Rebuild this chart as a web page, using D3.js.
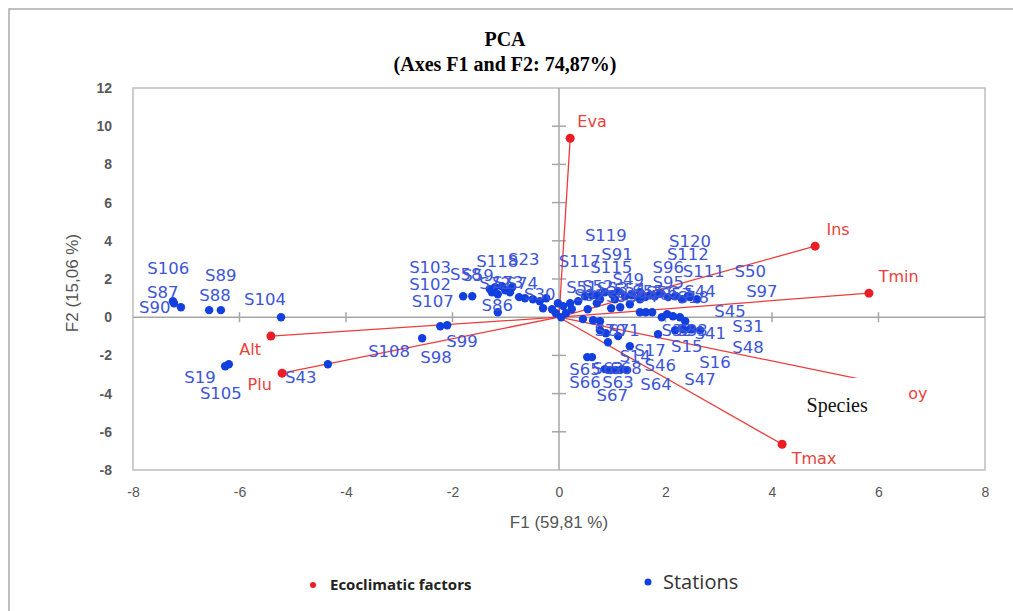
<!doctype html>
<html lang="en">
<head>
  <meta charset="utf-8">
  <style>
    body { margin: 0; background: #fff; }
    .tick text { font: 14px "Liberation Sans", Arial, sans-serif; fill: #555; }
    .st-label { font: 16.5px "DejaVu Sans", Verdana, sans-serif; fill: #3d55d8; }
    .fac-label { font: 16px "DejaVu Sans", Verdana, sans-serif; fill: #e8423c; }
  </style>
  <script src="https://d3js.org/d3.v7.min.js"></script>
</head>
<body>
<script>
// ecoclimatic factors (vectors)
const factorNames = ["Eva", "Ins", "Tmin", "oy", "Tmax", "Alt", "Plu"];
const factorF1 = [0.21, 4.81, 5.82, 6.02, 4.19, -5.41, -5.20];
const factorF2 = [9.37, 3.72, 1.26, -3.45, -6.65, -0.99, -2.93];
const factorLabelF1 = [0.62, 5.24, 6.38, 6.74, 4.79, -5.80, -5.62];
const factorLabelF2 = [10.26, 4.61, 2.15, -3.98, -7.38, -1.68, -3.51];

// stations (label coords null = no label)
const stationNames = [
  "S106", "S87", "S90", "S88", "S89", "S104", "S19", "S105", "S43",
  "S108", "S98", "S99", "S107", "S103", "S102", "S118", "S23", "S58", "S59",
  "S72", "S73", "S74", "S86", "S30", "S29", "S28", "S27", "S26", "S25",
  "S1", "S2", "S3", "S4", "S5", "S6", "S7", "S8", "S9", "S10",
  "S11", "S12", "S13", "S20", "S21", "S22", "S24", "S34",
  "S117", "S119", "S120", "S91", "S112", "S115", "S96", "S111", "S50", "S49",
  "S95", "S44", "S97", "S18", "S51", "S52", "S53", "S54", "S55", "S56",
  "S57", "S92", "S93", "S94",
  "S45", "S31", "S48", "S41", "S15", "S17", "S16", "S14", "S46", "S47",
  "S32", "S33", "S35", "S36",
  "S70", "S71", "S65", "S66", "S62", "S63", "S68", "S67", "S64"
];
const stationF1 = [
  -7.25, -7.23, -7.10, -6.57, -6.35, -5.22, -6.27, -6.20, -4.34,
  -2.57, -2.23, -2.10, -1.80, -1.63, -1.30, -1.20, -1.07, -1.26, -1.15,
  -1.01, -0.92, -0.88, -1.15, -0.64, -0.75, -0.49, -0.36, -0.24, -0.30,
  -0.13, -0.02, 0.08, 0.13, 0.04, -0.06, 0.24, 0.45, 0.64, 0.77,
  0.98, 1.15, 1.52, 1.63, 1.75, 0.71, 0.54, 1.33,
  0.21, 1.11, 1.52, 0.86, 1.90, 0.73, 1.71, 2.18, 2.46, 1.24,
  1.62, 2.31, 2.59, 2.42, 0.36, 0.49, 0.62, 1.00, 1.37, 1.80,
  2.05, 0.77, 1.05, 1.52,
  1.93, 2.27, 2.37, 2.65, 1.86, 1.33, 2.46, 0.92, 1.11, 2.18,
  2.33, 2.50, 2.03, 2.14,
  0.77, 0.88, 0.53, 0.62, 0.86, 0.96, 1.18, 1.07, 1.28
];
const stationF2 = [
  0.84, 0.73, 0.52, 0.37, 0.37, 0.00, -2.57, -2.46, -2.46,
  -1.10, -0.47, -0.42, 1.10, 1.10, 1.47, 1.57, 1.62, 1.31, 1.20,
  1.41, 1.31, 1.57, 0.26, 0.99, 1.05, 0.94, 0.84, 0.99, 0.47,
  0.42, 0.73, 0.58, 0.21, 0.00, 0.21, 0.42, -0.10, -0.16, -0.21,
  0.47, 0.52, 0.26, 0.26, 0.26, 0.73, 0.42, 0.68,
  0.73, 1.36, 1.31, 1.31, 1.26, 1.15, 1.15, 1.10, 1.05, 1.10,
  1.05, 0.94, 0.94, 1.10, 0.84, 1.10, 1.15, 1.20, 1.15, 1.10,
  1.05, 0.94, 0.94, 0.94,
  0.00, 0.00, -0.21, -0.68, -0.89, -1.52, -0.63, -1.31, -0.99, -0.68,
  -0.63, -0.63, 0.16, 0.05,
  -0.68, -0.84, -2.09, -2.09, -2.72, -2.77, -2.72, -2.77, -2.77
];
const stationLabelF1 = [
  -7.34, -7.44, -7.59, -6.46, -6.35, -5.52, -6.74, -6.35, -4.85,
  -3.19, -2.31, -1.82, -2.37, -2.42, -2.42, -1.16, -0.66, -1.75, -1.52,
  -1.20, -0.96, -0.69, -1.16, -0.36, null, null, null, null, null,
  null, null, null, null, null, null, null, null, null, null,
  null, null, null, null, null, null, null, null,
  0.39, 0.88, 2.46, 1.09, 2.42, 0.98, 2.05, 2.72, 3.59, 1.30,
  2.05, 2.65, 3.81, 2.52, 0.43, 0.73, 1.00, 1.33, 1.67, 1.93,
  2.20, 0.58, 1.18, 1.56,
  3.21, 3.55, 3.55, 2.84, 2.40, 1.71, 2.93, 1.43, 1.90, 2.65,
  2.22, 2.50, null, null,
  0.96, 1.22, 0.49, 0.49, 0.92, 1.11, 1.26, 1.00, 1.82
];
const stationLabelF2 = [
  2.57, 1.31, 0.52, 1.15, 2.20, 0.94, -3.14, -3.98, -3.14,
  -1.78, -2.09, -1.26, 0.84, 2.62, 1.73, 2.93, 3.04, 2.25, 2.20,
  1.78, 1.83, 1.78, 0.63, 1.20, null, null, null, null, null,
  null, null, null, null, null, null, null, null, null, null,
  null, null, null, null, null, null, null, null,
  2.93, 4.29, 3.98, 3.30, 3.30, 2.62, 2.62, 2.41, 2.41, 1.99,
  1.83, 1.36, 1.36, 1.05, 1.57, 1.62, 1.52, 1.47, 1.36, 1.31,
  1.20, 1.15, 1.10, 1.10,
  0.31, -0.47, -1.57, -0.84, -1.52, -1.73, -2.36, -2.04, -2.51, -3.25,
  -0.68, -0.68, null, null,
  -0.68, -0.68, -2.72, -3.40, -2.67, -3.40, -2.67, -4.08, -3.51
];

const xTicks = [-8, -6, -4, -2, 0, 2, 4, 6, 8];
const yTicks = [-8, -6, -4, -2, 0, 2, 4, 6, 8, 10, 12];

const W = 1013, H = 611;
const svg = d3.select("body").append("svg").attr("width", W).attr("height", H);

// outer frame
svg.append("rect").attr("x", 9).attr("y", 9).attr("width", W + 10).attr("height", H + 10)
  .attr("fill", "none").attr("stroke", "#aaa").attr("stroke-width", 1.5);

const x = d3.scaleLinear().domain([-8, 8]).range([133, 985]);
const y = d3.scaleLinear().domain([-8, 12]).range([470, 88]);

// title
svg.append("text").attr("x", 505).attr("y", 46).attr("text-anchor", "middle")
  .style("font", "bold 20px 'Liberation Serif', 'Times New Roman', serif").text("PCA");
svg.append("text").attr("x", 505).attr("y", 71).attr("text-anchor", "middle")
  .style("font", "bold 20px 'Liberation Serif', 'Times New Roman', serif").text("(Axes F1 and F2: 74,87%)");

// plot frame
svg.append("rect").attr("x", x(-8)).attr("y", y(12))
  .attr("width", x(8) - x(-8)).attr("height", y(-8) - y(12))
  .attr("fill", "none").attr("stroke", "#bdbdbd").attr("stroke-width", 1.5);

// axes (labels only)
const gx = svg.append("g").attr("transform", `translate(0,${y(-8)})`)
  .call(d3.axisBottom(x).tickValues(xTicks).tickFormat(d => String(d)).tickSize(0).tickPadding(17));
const gy = svg.append("g").attr("transform", `translate(${x(-8)},0)`)
  .call(d3.axisLeft(y).tickValues(yTicks).tickFormat(d => String(d)).tickSize(0).tickPadding(21));
gx.select(".domain").remove();
gy.select(".domain").remove();
gy.selectAll("text").style("font-weight", "bold").style("fill", "#595959");

// zero lines with cross ticks
svg.append("line").attr("x1", x(-8)).attr("x2", x(8)).attr("y1", y(0)).attr("y2", y(0))
  .attr("stroke", "#a6a6a6").attr("stroke-width", 1.5);
svg.append("line").attr("x1", x(0)).attr("x2", x(0)).attr("y1", y(12)).attr("y2", y(-8))
  .attr("stroke", "#a6a6a6").attr("stroke-width", 1.5);
svg.selectAll(".ytick").data(yTicks.filter(d => d !== 0 && d !== 12 && d !== -8)).enter().append("line")
  .attr("x1", x(0) - 7).attr("x2", x(0) + 7).attr("y1", d => y(d)).attr("y2", d => y(d))
  .attr("stroke", "#a6a6a6").attr("stroke-width", 1.5);
svg.selectAll(".xtick").data(xTicks.filter(d => d !== 0 && Math.abs(d) !== 8)).enter().append("line")
  .attr("y1", y(0) - 5).attr("y2", y(0) + 5).attr("x1", d => x(d)).attr("x2", d => x(d))
  .attr("stroke", "#a6a6a6").attr("stroke-width", 1.5);

// axis titles
svg.append("text").attr("x", x(0)).attr("y", 528).attr("text-anchor", "middle")
  .style("font", "17px 'Liberation Sans', Arial, sans-serif").style("fill", "#555")
  .text("F1 (59,81 %)");
svg.append("text").attr("transform", "translate(78,283) rotate(-90)").attr("text-anchor", "middle")
  .style("font", "17px 'Liberation Sans', Arial, sans-serif").style("fill", "#555")
  .text("F2 (15,06 %)");

// factor vectors
const factors = factorNames.map((n, i) => ({ n, f1: factorF1[i], f2: factorF2[i], lf1: factorLabelF1[i], lf2: factorLabelF2[i] }));
svg.selectAll(".vec").data(factors).enter().append("line")
  .attr("x1", x(0)).attr("y1", y(0)).attr("x2", d => x(d.f1)).attr("y2", d => y(d.f2))
  .attr("stroke", "#ee3b3b").attr("stroke-width", 1.3);

// stations
const stations = stationNames.map((n, i) => ({ n, f1: stationF1[i], f2: stationF2[i], lf1: stationLabelF1[i], lf2: stationLabelF2[i] }));
svg.selectAll(".st").data(stations).enter().append("circle")
  .attr("cx", d => x(d.f1)).attr("cy", d => y(d.f2)).attr("r", 4.2).attr("fill", "#1240e0");
svg.selectAll(".stl").data(stations.filter(d => d.lf1 !== null)).enter().append("text")
  .attr("class", "st-label").attr("x", d => x(d.lf1)).attr("y", d => y(d.lf2))
  .attr("text-anchor", "middle").attr("dominant-baseline", "central").text(d => d.n);

svg.selectAll(".fd").data(factors).enter().append("circle")
  .attr("cx", d => x(d.f1)).attr("cy", d => y(d.f2)).attr("r", 4.5).attr("fill", "#ec1c24");
svg.selectAll(".fl").data(factors).enter().append("text")
  .attr("class", "fac-label").attr("x", d => x(d.lf1)).attr("y", d => y(d.lf2))
  .attr("text-anchor", "middle").attr("dominant-baseline", "central").text(d => d.n);

// "Species" patch over the vector label
svg.append("rect").attr("x", x(4.55)).attr("y", y(-3.18)).attr("width", x(6.55) - x(4.55))
  .attr("height", y(-5.7) - y(-3.18)).attr("fill", "#fff");
svg.append("text").attr("x", x(4.65)).attr("y", y(-4.95))
  .style("font", "20px 'Liberation Serif', 'Times New Roman', serif").style("fill", "#111").text("Species");

// legend
svg.append("circle").attr("cx", 313).attr("cy", 585).attr("r", 3).attr("fill", "#ec1c24");
svg.append("text").attr("x", 330).attr("y", 590)
  .style("font", "bold 15px 'Open Sans', sans-serif").style("fill", "#222").text("Ecoclimatic factors");
svg.append("circle").attr("cx", 648).attr("cy", 582).attr("r", 3.5).attr("fill", "#1240e0");
svg.append("text").attr("x", 663).attr("y", 589)
  .style("font", "20px 'Open Sans', sans-serif").style("fill", "#333").text("Stations");
</script>
</body>
</html>
